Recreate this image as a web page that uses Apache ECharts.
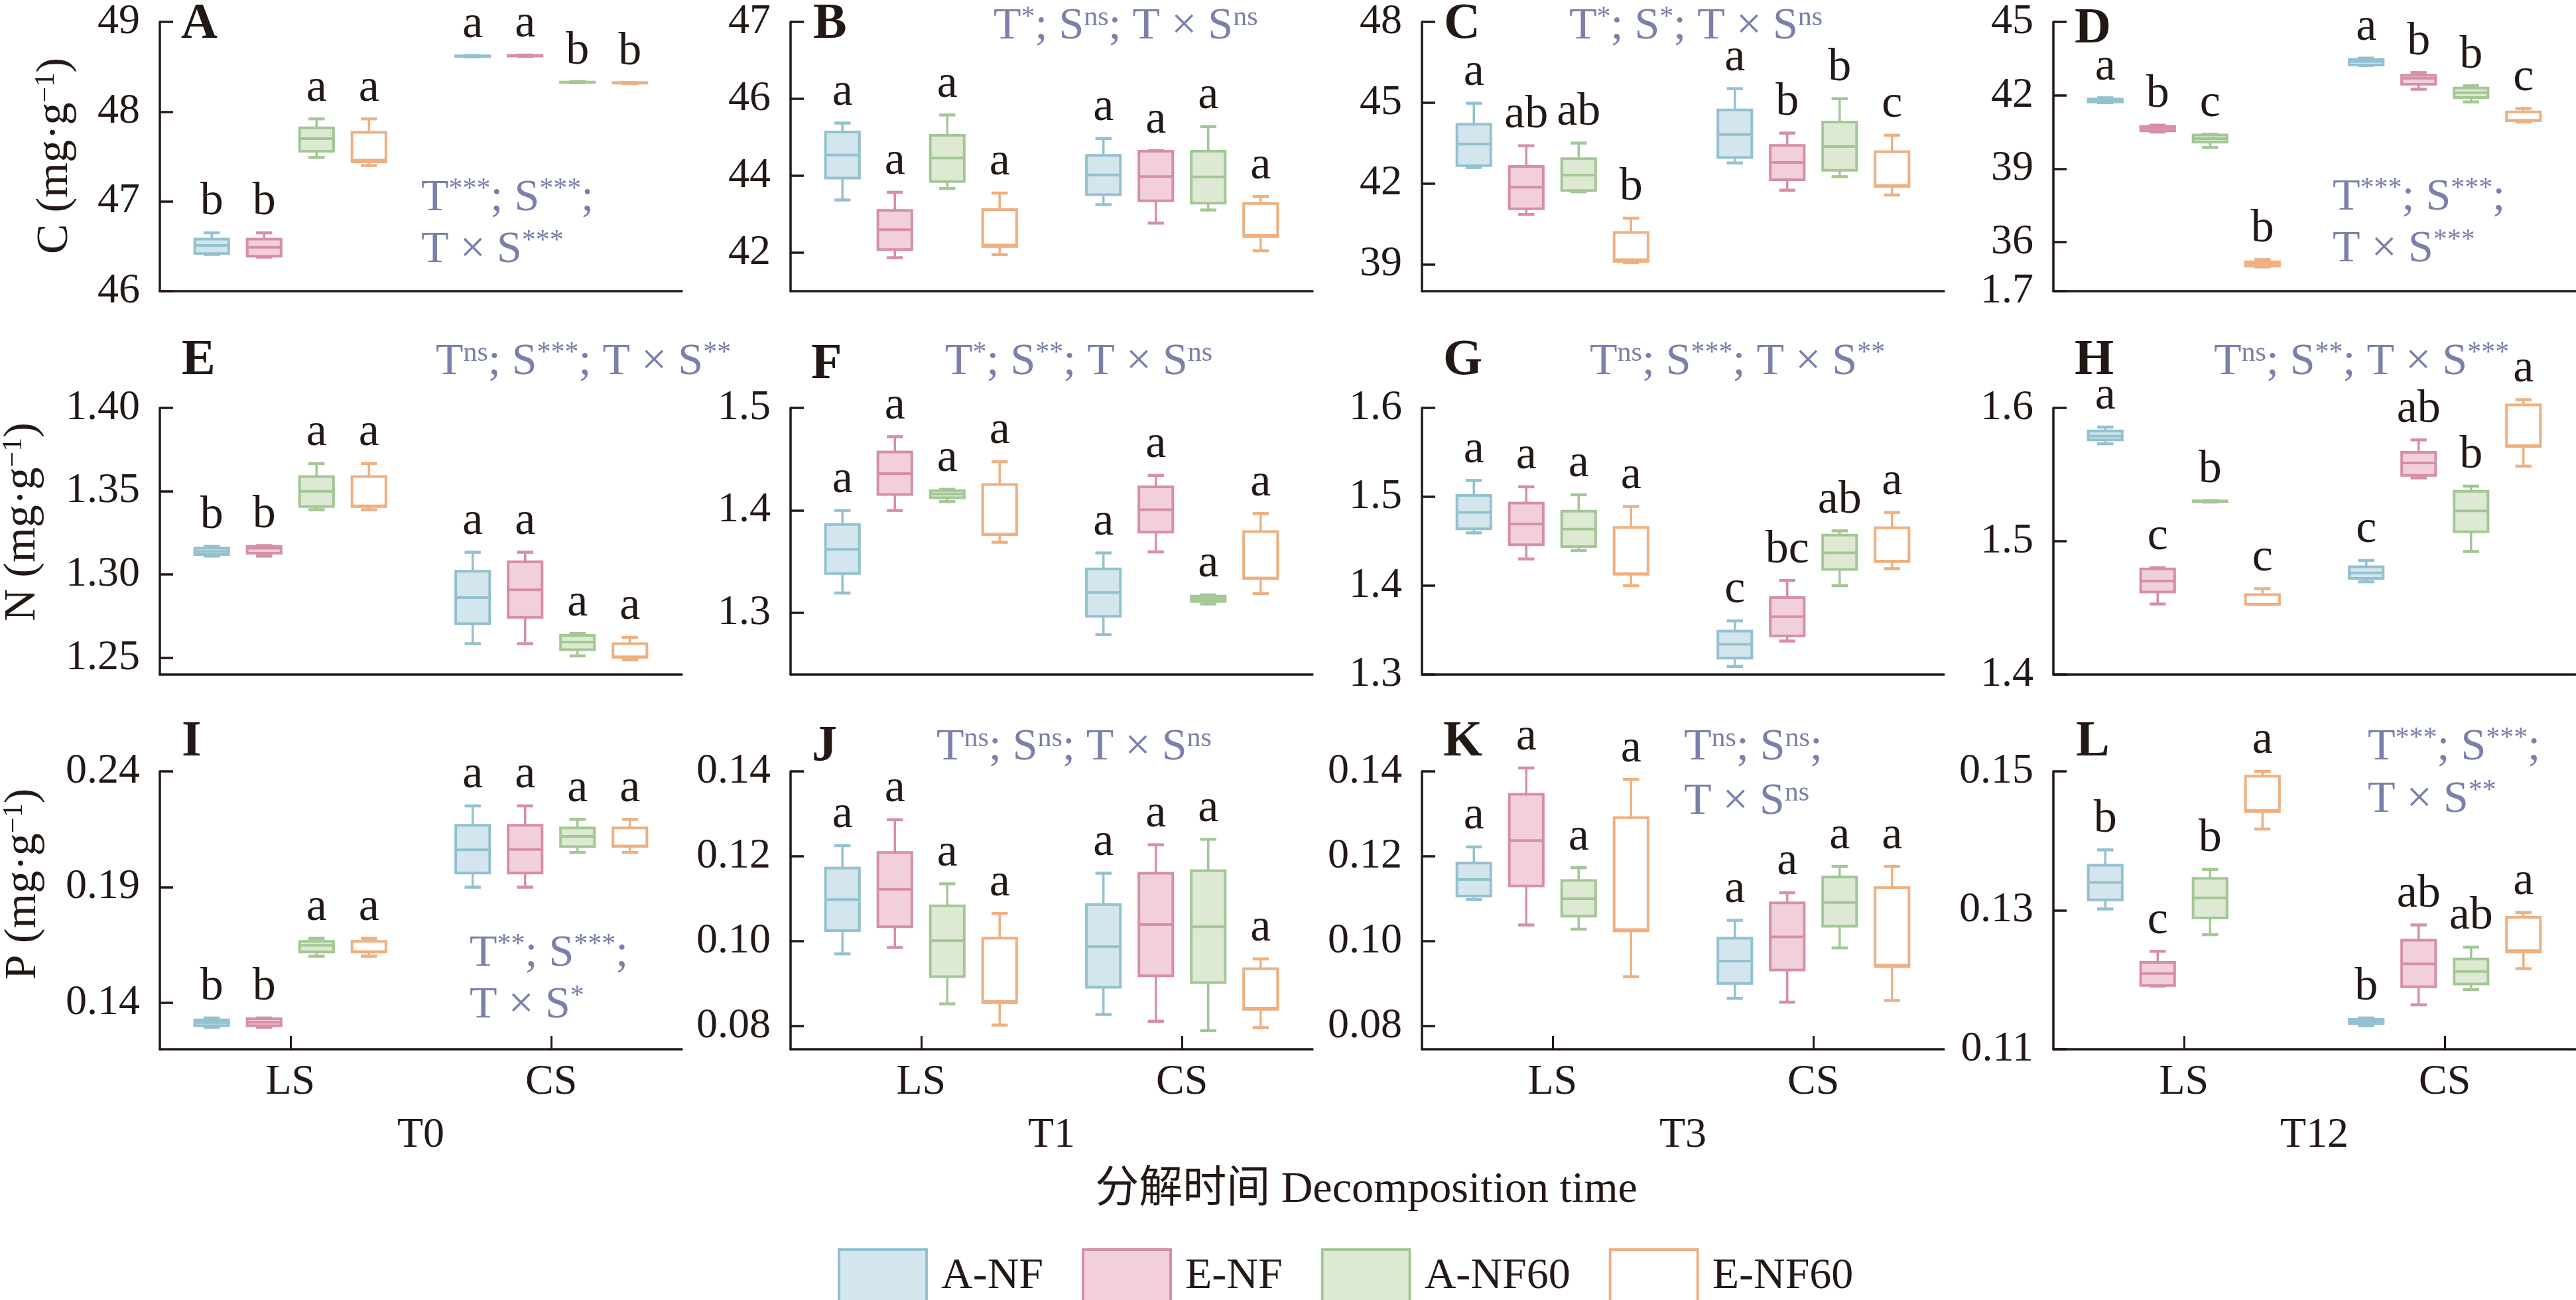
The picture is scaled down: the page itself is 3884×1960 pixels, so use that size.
<!DOCTYPE html>
<html><head><meta charset="utf-8">
<script src="https://cdn.jsdelivr.net/npm/echarts@6/dist/echarts.min.js"></script>
<style>html,body{margin:0;padding:0;background:#fff}#c{width:3884px;height:1960px}</style>
</head><body><div id="c"></div>
<script>
// ---------- data ----------
const categories = ['LS', 'CS'];
const groupNames = ['A-NF', 'E-NF', 'A-NF60', 'E-NF60'];
const timeNames = ['T0', 'T1', 'T3', 'T12'];

// each group: [LS, CS], each = [min, Q1, median, Q3, max]
const boxA = [
  [[46.41, 46.42, 46.51, 46.58, 46.65], [48.610, 48.614, 48.618, 48.622, 48.626]],
  [[46.38, 46.39, 46.49, 46.58, 46.65], [48.615, 48.619, 48.623, 48.626, 48.630]],
  [[47.49, 47.56, 47.70, 47.82, 47.92], [48.322, 48.325, 48.327, 48.330, 48.333]],
  [[47.40, 47.44, 47.46, 47.77, 47.92], [48.315, 48.318, 48.320, 48.323, 48.326]]
];
const boxB = [
  [[43.37, 43.94, 44.54, 45.14, 45.37], [43.25, 43.51, 44.02, 44.53, 44.97]],
  [[41.87, 42.08, 42.60, 43.10, 43.57], [42.77, 43.35, 43.98, 44.64, 44.65]],
  [[43.67, 43.85, 44.46, 45.05, 45.58], [43.11, 43.29, 43.97, 44.64, 45.28]],
  [[41.95, 42.16, 42.20, 43.12, 43.55], [42.05, 42.42, 42.45, 43.28, 43.46]]
];
const boxC = [
  [[42.59, 42.66, 43.46, 44.20, 44.98], [42.76, 42.96, 43.82, 44.73, 45.52]],
  [[40.85, 41.06, 41.86, 42.63, 43.40], [41.75, 42.14, 42.78, 43.41, 43.87]],
  [[41.69, 41.74, 42.31, 42.92, 43.50], [42.25, 42.49, 43.37, 44.28, 45.15]],
  [[39.06, 39.10, 39.17, 40.18, 40.71], [41.57, 41.89, 41.92, 43.18, 43.79]]
];
const boxD = [
  [[41.70, 41.73, 41.79, 41.85, 41.90], [43.22, 43.24, 43.38, 43.47, 43.52]],
  [[40.50, 40.55, 40.66, 40.73, 40.78], [42.25, 42.45, 42.70, 42.82, 42.93]],
  [[39.87, 40.09, 40.23, 40.38, 40.41], [41.73, 41.91, 42.11, 42.30, 42.39]],
  [[34.99, 35.02, 35.13, 35.20, 35.29], [40.91, 40.96, 40.98, 41.32, 41.46]]
];
const boxE = [
  [[1.3111, 1.3120, 1.3138, 1.3158, 1.3169], [1.2585, 1.2705, 1.2862, 1.3020, 1.3134]],
  [[1.3111, 1.3128, 1.3158, 1.3169, 1.3174], [1.2585, 1.2743, 1.2908, 1.3077, 1.3134]],
  [[1.3389, 1.3408, 1.3500, 1.3588, 1.3666], [1.2512, 1.2549, 1.2595, 1.2635, 1.2646]],
  [[1.3389, 1.3408, 1.3412, 1.3588, 1.3666], [1.2488, 1.2503, 1.2506, 1.2585, 1.2623]]
];
const boxF = [
  [[1.3195, 1.3385, 1.3621, 1.3864, 1.4000], [1.2790, 1.2967, 1.3200, 1.3430, 1.3586]],
  [[1.4000, 1.4156, 1.4359, 1.4570, 1.4719], [1.3596, 1.3789, 1.4007, 1.4230, 1.4342]],
  [[1.4087, 1.4124, 1.4161, 1.4193, 1.4206], [1.3088, 1.3113, 1.3140, 1.3165, 1.3177]],
  [[1.3690, 1.3765, 1.3770, 1.4253, 1.4476], [1.3190, 1.3336, 1.3341, 1.3794, 1.3970]]
];
const boxG = [
  [[1.4594, 1.4640, 1.4824, 1.5014, 1.5184], [1.3091, 1.3184, 1.3340, 1.3488, 1.3604]],
  [[1.4300, 1.4461, 1.4694, 1.4929, 1.5113], [1.3377, 1.3434, 1.3652, 1.3865, 1.4058]],
  [[1.4396, 1.4441, 1.4637, 1.4838, 1.5023], [1.4000, 1.4183, 1.4370, 1.4569, 1.4617]],
  [[1.4000, 1.4129, 1.4134, 1.4654, 1.4892], [1.4191, 1.4271, 1.4276, 1.4651, 1.4824]]
];
const boxH = [
  [[1.5731, 1.5760, 1.5788, 1.5827, 1.5856], [1.4696, 1.4721, 1.4763, 1.4808, 1.4856]],
  [[1.4529, 1.4619, 1.4702, 1.4792, 1.4802], [1.5475, 1.5494, 1.5587, 1.5667, 1.5760]],
  [[1.5294, 1.5297, 1.5300, 1.5302, 1.5305], [1.4923, 1.5071, 1.5227, 1.5375, 1.5413]],
  [[1.4525, 1.4525, 1.4528, 1.4600, 1.4644], [1.5563, 1.5712, 1.5716, 1.6023, 1.6062]]
];
const boxI = [
  [[0.1295, 0.1302, 0.1315, 0.1327, 0.1335], [0.1900, 0.1961, 0.2061, 0.2167, 0.2251]],
  [[0.1295, 0.1302, 0.1317, 0.1332, 0.1335], [0.1900, 0.1961, 0.2063, 0.2167, 0.2251]],
  [[0.1602, 0.1620, 0.1649, 0.1666, 0.1679], [0.2050, 0.2075, 0.2119, 0.2156, 0.2193]],
  [[0.1602, 0.1620, 0.1622, 0.1666, 0.1679], [0.2050, 0.2076, 0.2078, 0.2156, 0.2193]]
];
const boxJ = [
  [[0.0970, 0.1025, 0.1098, 0.1172, 0.1225], [0.0827, 0.0891, 0.0987, 0.1086, 0.1160]],
  [[0.0985, 0.1034, 0.1122, 0.1209, 0.1286], [0.0811, 0.0918, 0.1039, 0.1160, 0.1227]],
  [[0.0852, 0.0916, 0.1001, 0.1083, 0.1135], [0.0789, 0.0902, 0.1034, 0.1166, 0.1240]],
  [[0.0802, 0.0855, 0.0858, 0.1007, 0.1065], [0.0796, 0.0839, 0.0842, 0.0935, 0.0958]]
];
const boxK = [
  [[0.1098, 0.1106, 0.1145, 0.1184, 0.1222], [0.0865, 0.0900, 0.0953, 0.1007, 0.1049]],
  [[0.1038, 0.1130, 0.1237, 0.1346, 0.1408], [0.0856, 0.0932, 0.1010, 0.1090, 0.1114]],
  [[0.1028, 0.1059, 0.1100, 0.1143, 0.1173], [0.0984, 0.1035, 0.1091, 0.1151, 0.1176]],
  [[0.0916, 0.1024, 0.1027, 0.1291, 0.1381], [0.0860, 0.0940, 0.0943, 0.1126, 0.1176]]
];
const boxL = [
  [[0.1302, 0.1315, 0.1340, 0.1365, 0.1387], [0.1134, 0.1137, 0.1140, 0.1143, 0.1145]],
  [[0.1191, 0.1192, 0.1209, 0.1225, 0.1241], [0.1164, 0.1190, 0.1223, 0.1257, 0.1279]],
  [[0.1265, 0.1289, 0.1318, 0.1346, 0.1359], [0.1186, 0.1194, 0.1212, 0.1230, 0.1247]],
  [[0.1417, 0.1442, 0.1444, 0.1493, 0.1500], [0.1216, 0.1240, 0.1242, 0.1290, 0.1297]]
];

// significance letters: LS (A-NF, E-NF, A-NF60, E-NF60), then CS (same order)
const lettersA = ['b', 'b', 'a', 'a', 'a', 'a', 'b', 'b'];
const lettersB = ['a', 'a', 'a', 'a', 'a', 'a', 'a', 'a'];
const lettersC = ['a', 'ab', 'ab', 'b', 'a', 'b', 'b', 'c'];
const lettersD = ['a', 'b', 'c', 'b', 'a', 'b', 'b', 'c'];
const lettersE = ['b', 'b', 'a', 'a', 'a', 'a', 'a', 'a'];
const lettersF = ['a', 'a', 'a', 'a', 'a', 'a', 'a', 'a'];
const lettersG = ['a', 'a', 'a', 'a', 'c', 'bc', 'ab', 'a'];
const lettersH = ['a', 'c', 'b', 'c', 'c', 'ab', 'b', 'a'];
const lettersI = ['b', 'b', 'a', 'a', 'a', 'a', 'a', 'a'];
const lettersJ = ['a', 'a', 'a', 'a', 'a', 'a', 'a', 'a'];
const lettersK = ['a', 'a', 'a', 'a', 'a', 'a', 'a', 'a'];
const lettersL = ['b', 'c', 'b', 'a', 'b', 'ab', 'ab', 'a'];

// y tick values and their labels
const yTicksA = [46, 47, 48, 49];           const yLabelsA = ['46', '47', '48', '49'];
const yTicksB = [42, 44, 46, 48];           const yLabelsB = ['42', '44', '46', '47'];
const yTicksC = [39, 42, 45, 48];           const yLabelsC = ['39', '42', '45', '48'];
const yTicksD = [34, 36, 39, 42, 45];       const yLabelsD = ['1.7', '36', '39', '42', '45'];
const yTicksE = [1.25, 1.30, 1.35, 1.40];   const yLabelsE = ['1.25', '1.30', '1.35', '1.40'];
const yTicksF = [1.3, 1.4, 1.5];            const yLabelsF = ['1.3', '1.4', '1.5'];
const yTicksG = [1.3, 1.4, 1.5, 1.6];       const yLabelsG = ['1.3', '1.4', '1.5', '1.6'];
const yTicksH = [1.4, 1.5, 1.6];            const yLabelsH = ['1.4', '1.5', '1.6'];
const yTicksI = [0.14, 0.19, 0.24];         const yLabelsI = ['0.14', '0.19', '0.24'];
const yTicksJ = [0.08, 0.10, 0.12, 0.14];   const yLabelsJ = ['0.08', '0.10', '0.12', '0.14'];
const yTicksK = [0.08, 0.10, 0.12, 0.14];   const yLabelsK = ['0.08', '0.10', '0.12', '0.14'];
const yTicksL = [0.11, 0.13, 0.15];         const yLabelsL = ['0.11', '0.13', '0.15'];

// ---------- styling / layout ----------
const SERIF = "'Liberation Serif','Times New Roman','Noto Sans CJK SC',serif";
const INK = '#231815';
const STAT = '#7a7fac';
const fills = ['#d3e5ed', '#f2d0da', '#dde9d2', '#ffffff'];
const borders = ['#93c1d0', '#d68fa6', '#a3c795', '#eeb081'];

const colLeft = [241, 1192, 2144, 3096];
const gridW = 787;
const rowTop = [33, 615, 1163];
const rowH = [406, 402, 419];

const panels = [
  { box: boxA, letters: lettersA, min: 46, max: 49, ticks: yTicksA, labels: yLabelsA },
  { box: boxB, letters: lettersB, min: 41, max: 48, ticks: yTicksB, labels: yLabelsB },
  { box: boxC, letters: lettersC, min: 38, max: 48, ticks: yTicksC, labels: yLabelsC },
  { box: boxD, letters: lettersD, min: 34, max: 45, ticks: yTicksD, labels: yLabelsD },
  { box: boxE, letters: lettersE, min: 1.24, max: 1.40, ticks: yTicksE, labels: yLabelsE },
  { box: boxF, letters: lettersF, min: 1.24, max: 1.5, ticks: yTicksF, labels: yLabelsF },
  { box: boxG, letters: lettersG, min: 1.3, max: 1.6, ticks: yTicksG, labels: yLabelsG },
  { box: boxH, letters: lettersH, min: 1.4, max: 1.6, ticks: yTicksH, labels: yLabelsH },
  { box: boxI, letters: lettersI, min: 0.12, max: 0.24, ticks: yTicksI, labels: yLabelsI },
  { box: boxJ, letters: lettersJ, min: 0.0745, max: 0.14, ticks: yTicksJ, labels: yLabelsJ },
  { box: boxK, letters: lettersK, min: 0.0745, max: 0.14, ticks: yTicksK, labels: yLabelsK },
  { box: boxL, letters: lettersL, min: 0.11, max: 0.15, ticks: yTicksL, labels: yLabelsL }
];

function makeRenderer(g, letters) {
  return function (params, api) {
    const ci = api.value(0);
    const v = [1, 2, 3, 4, 5].map(k => api.value(k));
    const band = api.size([1, 0])[0];
    const cx = api.coord([ci, v[2]])[0] + (g - 1.5) * band * 0.2008;
    const Y = val => api.coord([ci, val])[1];
    const yLo = Y(v[0]), yQ1 = Y(v[1]), yMd = Y(v[2]), yQ3 = Y(v[3]), yHi = Y(v[4]);
    const bw = band * 0.13, cw = band * 0.062;
    const ls = { stroke: borders[g], lineWidth: 3.5, fill: null };
    const cs = { stroke: borders[g], lineWidth: 4.5, fill: null };
    return {
      type: 'group',
      children: [
        { type: 'line', shape: { x1: cx, y1: yHi, x2: cx, y2: yQ3 }, style: ls },
        { type: 'line', shape: { x1: cx, y1: yQ1, x2: cx, y2: yLo }, style: ls },
        { type: 'line', shape: { x1: cx - cw / 2, y1: yHi, x2: cx + cw / 2, y2: yHi }, style: cs },
        { type: 'line', shape: { x1: cx - cw / 2, y1: yLo, x2: cx + cw / 2, y2: yLo }, style: cs },
        { type: 'rect', shape: { x: cx - bw / 2, y: yQ3, width: bw, height: Math.max(yQ1 - yQ3, 0.5) },
          style: { fill: fills[g], stroke: borders[g], lineWidth: 4 } },
        { type: 'line', shape: { x1: cx - bw / 2, y1: yMd, x2: cx + bw / 2, y2: yMd },
          style: { stroke: borders[g], lineWidth: 4 } },
        { type: 'text', x: cx, y: yHi - 46,
          style: { text: letters[ci * 4 + g], fill: INK, fontSize: 70, fontFamily: SERIF,
                   align: 'center', verticalAlign: 'middle' } }
      ]
    };
  };
}

const grids = [], xAxes = [], yAxes = [], series = [];
panels.forEach((p, i) => {
  const r = Math.floor(i / 4), c = i % 4;
  grids.push({ left: colLeft[c], top: rowTop[r], width: gridW, height: rowH[r], outerBoundsMode: 'none' });
  const bottomRow = r === 2;
  xAxes.push({
    type: 'category', gridIndex: i, data: categories, boundaryGap: true,
    axisLine: { show: true, onZero: false, lineStyle: { color: INK, width: 3.5 } },
    axisTick: bottomRow ? { show: true, inside: true, length: 20, alignWithLabel: true, lineStyle: { color: INK, width: 3 } } : { show: false },
    axisLabel: bottomRow ? { show: true, margin: 18, fontSize: 64, fontFamily: SERIF, color: INK } : { show: false },
    splitLine: { show: false },
    name: bottomRow ? timeNames[c] : '', nameLocation: 'middle', nameGap: 98,
    nameTextStyle: { fontSize: 64, fontFamily: SERIF, color: INK }
  });
  yAxes.push({
    type: 'value', gridIndex: i, min: p.min, max: p.max, scale: true,
    splitLine: { show: false },
    axisLine: { show: true, lineStyle: { color: INK, width: 3.5 } },
    axisTick: { show: true, inside: true, length: 20, customValues: p.ticks, lineStyle: { color: INK, width: 3.5 } },
    axisLabel: {
      show: true, customValues: p.ticks, margin: 30, fontSize: 64, fontFamily: SERIF, color: INK,
      formatter: (val) => {
        const k = p.ticks.findIndex(t => Math.abs(t - val) < 1e-9);
        return k >= 0 ? p.labels[k] : '';
      }
    }
  });
  groupNames.forEach((name, g) => {
    series.push({
      type: 'custom', name: name, xAxisIndex: i, yAxisIndex: i, clip: false, silent: true,
      itemStyle: { color: fills[g], borderColor: borders[g] },
      encode: { x: 0, y: [1, 2, 3, 4, 5] },
      data: categories.map((cat, ci) => [ci].concat(p.box[g][ci])),
      renderItem: makeRenderer(g, p.letters)
    });
  });
});

// ---------- annotations ----------
const statRich = {
  m: { fontSize: 68, fontFamily: SERIF, fill: STAT, lineHeight: 68 },
  s: { fontSize: 42, fontFamily: SERIF, fill: STAT, lineHeight: 42, verticalAlign: 'top' }
};
function statText(x, y, text) {
  return { type: 'text', x: x, y: y, silent: true,
    style: { text: text, rich: statRich, align: 'left', verticalAlign: 'middle' } };
}
const S3 = '{m|T}{s|***}{m|; S}{s|***}{m|;}';
const stats = [
  statText(635, 299, S3), statText(635, 377, '{m|T × S}{s|***}'),
  statText(1498, 40, '{m|T}{s|*}{m|; S}{s|ns}{m|; T × S}{s|ns}'),
  statText(2366, 40, '{m|T}{s|*}{m|; S}{s|*}{m|; T × S}{s|ns}'),
  statText(3517, 298, S3), statText(3517, 376, '{m|T × S}{s|***}'),
  statText(657, 546, '{m|T}{s|ns}{m|; S}{s|***}{m|; T × S}{s|**}'),
  statText(1425, 546, '{m|T}{s|*}{m|; S}{s|**}{m|; T × S}{s|ns}'),
  statText(2397, 546, '{m|T}{s|ns}{m|; S}{s|***}{m|; T × S}{s|**}'),
  statText(3338, 546, '{m|T}{s|ns}{m|; S}{s|**}{m|; T × S}{s|***}'),
  statText(708, 1438, '{m|T}{s|**}{m|; S}{s|***}{m|;}'), statText(708, 1516, '{m|T × S}{s|*}'),
  statText(1412, 1127, '{m|T}{s|ns}{m|; S}{s|ns}{m|; T × S}{s|ns}'),
  statText(2539, 1127, '{m|T}{s|ns}{m|; S}{s|ns}{m|;}'), statText(2539, 1209, '{m|T × S}{s|ns}'),
  statText(3570, 1127, S3), statText(3570, 1206, '{m|T × S}{s|**}')
];
const panelLetters = [
  ['A', 273, 37], ['B', 1226, 37], ['C', 2177, 37], ['D', 3128, 44],
  ['E', 274, 544], ['F', 1223, 550], ['G', 2176, 544], ['H', 3128, 544],
  ['I', 274, 1119], ['J', 1224, 1126], ['K', 2176, 1119], ['L', 3130, 1119]
].map(([t, x, y]) => ({ type: 'text', x: x, y: y, silent: true,
  style: { text: t, fontSize: 76, fontWeight: 'bold', fontFamily: SERIF, fill: INK, align: 'left', verticalAlign: 'middle' } }));

const yRich = {
  m: { fontSize: 68, fontFamily: SERIF, fill: INK, lineHeight: 68 },
  s: { fontSize: 42, fontFamily: SERIF, fill: INK, lineHeight: 42, verticalAlign: 'top' }
};
const yNames = [['C', 83, 235], ['N', 34, 787], ['P', 35, 1333]].map(([t, x, y]) => ({
  type: 'text', x: x, y: y, rotation: Math.PI / 2, silent: true,
  style: { text: '{m|' + t + ' (mg·g}{s|−1}{m|)}', rich: yRich, align: 'center', verticalAlign: 'middle' }
}));
const bottomTitle = { type: 'text', x: 2060, y: 1795, silent: true,
  style: { text: '分解时间 Decomposition time', fontSize: 66, fontFamily: SERIF, fill: INK, align: 'center', verticalAlign: 'middle' } };

const chart = echarts.init(document.getElementById('c'), null, { renderer: 'canvas' });
chart.setOption({
  backgroundColor: '#ffffff',
  animation: false,
  grid: grids,
  xAxis: xAxes,
  yAxis: yAxes,
  legend: {
    left: 1258, top: 1877, itemWidth: 132, itemHeight: 82, itemGap: 58, icon: 'rect', selectedMode: false,
    textStyle: { fontSize: 66, fontFamily: SERIF, color: INK, padding: [0, 0, 0, 17] },
    data: groupNames.map((n, g) => ({ name: n, icon: 'rect', itemStyle: { color: fills[g], borderColor: borders[g], borderWidth: 4 } }))
  },
  graphic: [].concat(stats, panelLetters, yNames, [bottomTitle]),
  series: series
});
</script></body></html>
